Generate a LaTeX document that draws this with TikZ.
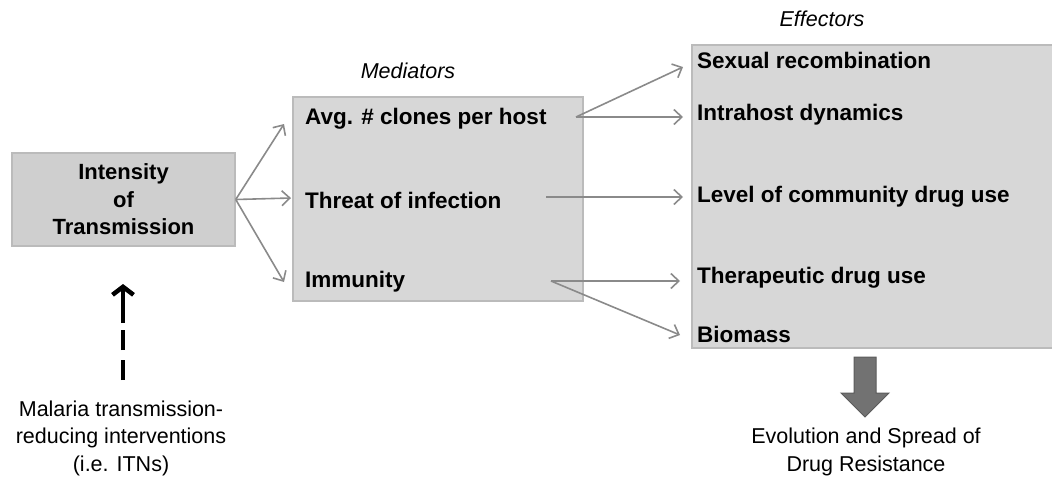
\documentclass[tikz,border=0pt]{standalone}
\usepackage{fontspec}
\setmainfont{Liberation Sans}
\usetikzlibrary{arrows.meta,positioning}

\definecolor{boxfill}{HTML}{D7D7D7}
\definecolor{srcfill}{HTML}{CFCFCF}
\definecolor{boxline}{HTML}{BBBBBB}
\definecolor{linkgray}{HTML}{8A8A8A}
\definecolor{bigarrow}{HTML}{727272}

\begin{document}
\begin{tikzpicture}[x=1pt,y=-1pt]
	\tikzstyle{panel} = [
		rectangle,
		draw=boxline,
		line width=1.5pt,
		fill=boxfill,
		inner sep=0pt
	]
	\tikzstyle{item} = [
		anchor=west,
		inner sep=0pt,
		font=\fontsize{22.5}{27}\selectfont\bfseries
	]
	\tikzstyle{head} = [
		font=\fontsize{21.5}{26}\selectfont\itshape
	]
	\tikzstyle{note} = [
		align=center,
		font=\fontsize{21.5}{27.5}\selectfont
	]
	\tikzstyle{link} = [
		draw=linkgray,
		line width=1.6pt,
		-{Straight Barb[length=8pt,width=15pt]}
	]

	\useasboundingbox (0,0) rectangle (1052,480);

	% boxes
	\node (source) [panel, fill=srcfill, minimum width=223pt, minimum height=93pt,
		align=center, font=\fontsize{22}{27.5}\selectfont\bfseries] at (123.5,199.5)
		{Intensity\\of\\Transmission};
	\node (medbox) [panel, minimum width=290pt, minimum height=204pt] at (438,199) {};
	\node (effbox) [panel, minimum width=370pt, minimum height=303pt] at (877,196.5) {};

	% titles
	\node (medtitle) [head] at (408,71) {Mediators};
	\node (efftitle) [head] at (822,19) {Effectors};

	% mediators
	\node (avg) [item] at (305,119) {Avg. \# clones per host};
	\node (threat) [item] at (305,200) {Threat of infection};
	\node (immun) [item] at (305,282) {Immunity};

	% effectors
	\node (sexrec) [item] at (697,60) {Sexual recombination};
	\node (intra) [item] at (697,115) {Intrahost dynamics};
	\node (level) [item] at (697,197) {Level of community drug use};
	\node (thera) [item] at (697,278) {Therapeutic drug use};
	\node (biomass) [item] at (697,334) {Biomass};

	% arrow ends
	\coordinate (avgin) at (284,124);
	\coordinate (threatin) at (291,198);
	\coordinate (immunin) at (284,282);
	\coordinate (avgout) at (576,117);
	\coordinate (threatout) at (546,197);
	\coordinate (immunout) at (551,281);
	\coordinate (sexin) at (683,67);
	\coordinate (intrain) at (683,117);
	\coordinate (levelin) at (683,197);
	\coordinate (therain) at (680,281);
	\coordinate (biomassin) at (680,335);

	\draw [link] (source.east) -- (avgin);
	\draw [link] (source.east) -- (threatin);
	\draw [link] (source.east) -- (immunin);
	\draw [link] (avgout) -- (sexin);
	\draw [link] (avgout) -- (intrain);
	\draw [link] (threatout) -- (levelin);
	\draw [link] (immunout) -- (therain);
	\draw [link] (immunout) -- (biomassin);

	% interventions
	\node (itn) [note] at (121,438) {Malaria transmission-\\reducing interventions\\(i.e. ITNs)};
	\coordinate (itntop) at (123,380);
	\draw [line width=4pt, dash pattern=on 20pt off 10pt on 20pt off 7pt on 60pt,
		-{Straight Barb[length=8pt,width=21pt,line width=4.5pt]}] (itntop) -- (123,284);

	% outcome
	\node (outcome) [note] at (866,452) {Evolution and Spread of\\Drug Resistance};
	\draw [fill=bigarrow, draw=bigarrow!80!black, line width=1pt]
		(854,357) -- (876,357) -- (876,393) -- (889,393) -- (865,417)
		-- (841,393) -- (854,393) -- cycle;
\end{tikzpicture}
\end{document}
